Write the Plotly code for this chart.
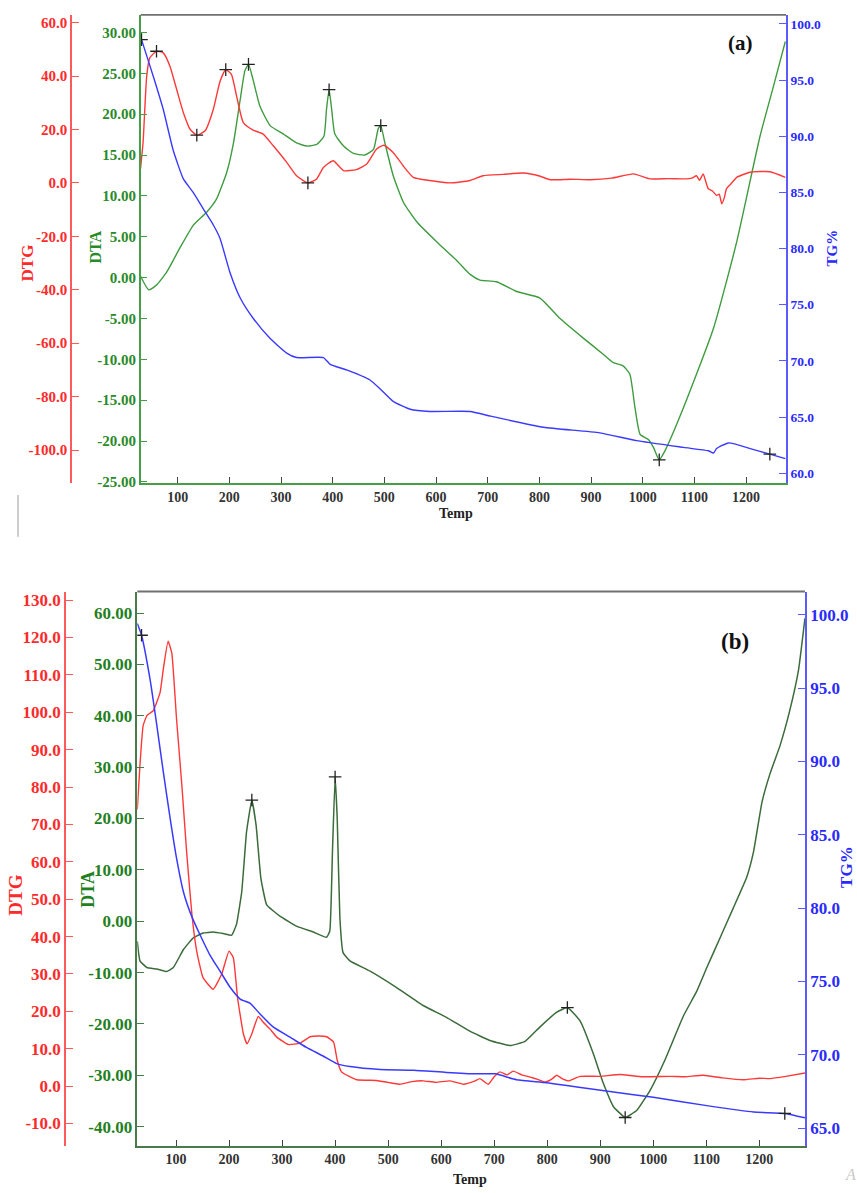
import plotly.graph_objects as go

W, H = 857, 1193

# ---------------- Panel (a) data ----------------
T_A_TG = [28, 30, 53, 72, 91, 111, 130, 150, 169, 182, 201, 221, 246, 279, 311, 330, 382, 395, 427,
          472, 492, 517, 550, 588, 666, 704, 808, 917, 988, 1079, 1127, 1137, 1143, 1166, 1208, 1246, 1276]
TG_A = [98.9, 98.6, 95.3, 92.4, 88.8, 86.2, 85.0, 83.5, 82.1, 80.9, 77.9, 75.6, 73.8, 72.0, 70.7, 70.3, 70.3, 69.7, 69.2,
        68.3, 67.5, 66.4, 65.7, 65.5, 65.5, 65.1, 64.1, 63.6, 62.9, 62.3, 62.0, 61.8, 62.2, 62.7, 62.2, 61.7, 61.3]

T_A_DTG = [28, 33, 40, 46, 59, 72, 85, 98, 111, 124, 137, 153, 169, 182, 193, 204, 214, 227, 246, 266,
           285, 311, 330, 352, 369, 382, 401, 421, 446, 466, 485, 499, 517, 536, 556, 588, 627, 666, 691, 730,
           769, 800, 821, 860, 898, 940, 982, 1014, 1050, 1079, 1095, 1104, 1110, 1117, 1122, 1127, 1135, 1143,
           1148, 1153, 1158, 1162, 1170, 1182, 1208, 1246, 1276]
DTG_A = [5.2, 15.2, 39.9, 46.8, 49.3, 48.7, 43.7, 35.0, 26.3, 20.1, 17.9, 19.5, 27.6, 38.1, 42.4, 40.6, 32.5, 22.6, 19.8, 18.2,
         13.9, 7.7, 2.7, 0.0, 1.5, 5.8, 8.3, 4.6, 5.0, 7.1, 12.7, 14.1, 11.4, 6.5, 2.1, 0.9, 0.0, 0.9, 2.7, 3.2,
         3.7, 2.6, 1.2, 1.4, 1.2, 1.8, 3.4, 1.5, 1.6, 1.5, 1.8, 2.7, 1.0, 3.4, 0.5, -2.2, -3.0, -4.7,
         -4.2, -7.8, -5.5, -2.2, -0.5, 2.1, 4.0, 4.2, 2.1]

T_A_DTA = [28, 44, 59, 79, 104, 130, 156, 175, 195, 208, 221, 230, 237, 246, 259, 279, 304, 330, 350, 369,
           383, 388, 393, 398, 404, 421, 440, 462, 479, 488, 493, 501, 517, 537, 563, 601, 640, 666, 685, 717,
           756, 801, 840, 885, 924, 943, 962, 975, 985, 995, 1011, 1021, 1032, 1043, 1079, 1137, 1182, 1227, 1253, 1276]
DTA_A = [0.2, -1.5, -0.9, 0.7, 3.6, 6.4, 8.0, 9.6, 12.9, 16.5, 21.8, 25.3, 26.1, 24.2, 21.0, 18.6, 17.6, 16.5, 16.1, 16.3,
         17.3, 20.6, 23.0, 20.6, 17.6, 16.1, 15.2, 15.0, 15.7, 18.2, 18.6, 16.5, 12.5, 9.2, 6.8, 4.4, 2.1, 0.4, -0.3, -0.5,
         -1.7, -2.5, -5.0, -7.4, -9.4, -10.4, -10.8, -11.8, -15.9, -19.2, -19.8, -20.8, -22.3, -21.2, -15.9, -6.2, 4.4, 17.3, 23.4, 28.9]

MARK_A_TG_T, MARK_A_TG_V = [30, 1246], [98.6, 61.7]
MARK_A_DTG_T, MARK_A_DTG_V = [59, 137, 193, 352], [49.3, 17.9, 42.4, 0.0]
MARK_A_DTA_T, MARK_A_DTA_V = [237, 393, 493, 1032], [26.1, 23.0, 18.6, -22.3]

# ---------------- Panel (b) data ----------------
T_B_TG = [27, 35, 51, 64, 76, 89, 101, 114, 130, 145, 164, 183, 202, 221, 240, 258, 283, 315, 346, 378,
          403, 428, 485, 548, 610, 664, 702, 742, 799, 856, 918, 1000, 1107, 1189, 1248, 1286]
TG_B = [99.4, 98.6, 95.6, 92.4, 89.3, 86.1, 83.4, 81.1, 79.4, 78.2, 76.8, 75.7, 74.6, 73.8, 73.5, 72.8, 71.9, 71.2, 70.5, 69.9,
        69.4, 69.2, 69.0, 68.95, 68.8, 68.7, 68.7, 68.3, 68.1, 67.8, 67.5, 67.1, 66.5, 66.1, 66.0, 65.7]

T_B_DTG = [27, 32, 38, 45, 57, 70, 76, 85, 92, 101, 111, 120, 130, 139, 151, 170, 186, 200, 208, 216,
           227, 234, 243, 255, 265, 277, 290, 312, 334, 353, 370, 384, 397, 404, 412, 441, 478, 500, 522, 545,
           566, 590, 617, 642, 664, 673, 689, 700, 711, 724, 736, 752, 768, 782, 796, 808, 818, 829, 840, 862,
           900, 937, 980, 1032, 1060, 1094, 1130, 1170, 1200, 1220, 1250, 1286]
DTG_B = [74.0, 85.8, 96.4, 99.1, 100.4, 105.3, 111.5, 119.0, 115.9, 98.2, 80.5, 62.7, 45.9, 36.1, 29.0, 25.9, 29.9, 36.1, 34.4, 23.7,
         14.0, 11.3, 14.0, 18.6, 17.0, 15.3, 13.1, 11.1, 11.5, 13.2, 13.4, 13.2, 11.8, 6.9, 3.8, 1.7, 1.5, 1.0, 0.5, 1.2,
         1.4, 1.0, 1.4, 0.5, 1.4, 2.0, 0.5, 2.5, 3.8, 3.0, 4.0, 3.0, 2.4, 1.8, 1.1, 1.8, 2.9, 1.9, 1.4, 2.6,
         2.6, 3.1, 2.5, 2.6, 2.5, 2.9, 2.2, 1.7, 2.1, 2.0, 2.6, 3.5]

T_B_DTA = [27, 32, 45, 64, 82, 95, 114, 133, 151, 170, 189, 205, 214, 224, 233, 243, 251, 260, 271, 296,
           328, 359, 384, 390, 395, 400, 404, 409, 415, 428, 466, 516, 566, 610, 654, 692, 730, 758, 786, 818,
           838, 862, 887, 906, 925, 947, 969, 994, 1022, 1057, 1082, 1101, 1126, 1151, 1176, 1189, 1205, 1220, 1239, 1258,
           1274, 1286]
DTA_B = [-3.9, -7.7, -9.0, -9.3, -9.8, -9.0, -5.5, -3.2, -2.3, -2.1, -2.4, -2.7, -0.6, 5.8, 17.4, 23.6, 18.7, 8.4, 3.2, 1.0,
         -1.0, -2.1, -3.1, -1.9, 13.5, 28.1, 20.0, 0.7, -6.1, -7.7, -9.7, -12.9, -16.4, -18.7, -21.4, -23.2, -24.2, -23.4, -20.6, -17.7,
         -16.8, -19.4, -25.8, -31.6, -36.1, -38.2, -36.8, -32.9, -27.0, -18.4, -13.6, -9.0, -3.2, 2.6, 8.5, 13.5, 23.2, 28.7, 34.2, 41.3,
         49.0, 59.0]

MARK_B_TG_T, MARK_B_TG_V = [35, 1248], [98.6, 66.0]
MARK_B_DTA_T, MARK_B_DTA_V = [243, 400, 838, 947], [23.6, 28.1, -16.8, -38.2]

# ---------------- Tick values ----------------
X_TICKS = [100, 200, 300, 400, 500, 600, 700, 800, 900, 1000, 1100, 1200]
A_DTA_TICKS = [30, 25, 20, 15, 10, 5, 0, -5, -10, -15, -20, -25]
A_DTG_TICKS = [60, 40, 20, 0, -20, -40, -60, -80, -100]
A_TG_TICKS = [100, 95, 90, 85, 80, 75, 70, 65, 60]
B_DTA_TICKS = [60, 50, 40, 30, 20, 10, 0, -10, -20, -30, -40]
B_DTG_TICKS = [130, 120, 110, 100, 90, 80, 70, 60, 50, 40, 30, 20, 10, 0, -10]
B_TG_TICKS = [100, 95, 90, 85, 80, 75, 70, 65]

# ---------------- Styling ----------------
FONT = "Liberation Serif"
RED_LINE, RED_AX, RED_TXT = "#ff3838", "#ff5a5a", "#ff2a2a"
BLUE_LINE, BLUE_AX, BLUE_TXT = "#3a3aff", "#5a5aff", "#2a2aff"
GREEN_A_LINE, GREEN_A_AX, GREEN_A_TXT = "#3f9b3f", "#45a045", "#2a8a2a"
GREEN_B_LINE, GREEN_B_AX, GREEN_B_TXT = "#3b6b3b", "#4a7a4a", "#1f801f"


def fx(x):
    return x / W


def fy(y):
    return 1 - y / H


def fmt(vals, nd):
    return [f"{v:.{nd}f}" for v in vals]


fig = go.Figure()


def line(x, y, xa, ya, color, w=1.4, smooth=0.5):
    fig.add_trace(go.Scatter(x=x, y=y, xaxis=xa, yaxis=ya, mode="lines",
                             line=dict(color=color, width=w, shape="spline", smoothing=smooth),
                             showlegend=False, hoverinfo="skip"))


def marks(x, y, xa, ya):
    fig.add_trace(go.Scatter(x=x, y=y, xaxis=xa, yaxis=ya, mode="markers",
                             marker=dict(symbol="cross-thin", size=9, line=dict(color="#222", width=1.3)),
                             showlegend=False, hoverinfo="skip"))


# panel (a)
line(T_A_DTA, DTA_A, "x", "y", GREEN_A_LINE)
line(T_A_DTG, DTG_A, "x", "y2", RED_LINE)
line(T_A_TG, TG_A, "x", "y3", BLUE_LINE)
marks(MARK_A_DTA_T, MARK_A_DTA_V, "x", "y")
marks(MARK_A_DTG_T, MARK_A_DTG_V, "x", "y2")
marks(MARK_A_TG_T, MARK_A_TG_V, "x", "y3")

# panel (b)
line(T_B_DTA, DTA_B, "x2", "y4", GREEN_B_LINE, 1.5, 0.35)
line(T_B_DTG, DTG_B, "x2", "y5", RED_LINE, 1.4, 0.4)
line(T_B_TG, TG_B, "x2", "y6", BLUE_LINE, 1.5)
marks(MARK_B_DTA_T, MARK_B_DTA_V, "x2", "y4")
marks(MARK_B_TG_T, MARK_B_TG_V, "x2", "y6")


def yax(domain, rng, ticks, nd, linecol, txtcol, size, **kw):
    d = dict(domain=domain, range=rng, tickmode="array", tickvals=ticks, ticktext=fmt(ticks, nd),
             ticks="inside", ticklen=7, tickwidth=1, tickcolor=linecol,
             showline=True, linecolor=linecol, linewidth=1.5,
             showgrid=False, zeroline=False, fixedrange=True,
             tickfont=dict(family=FONT, size=size, color=txtcol, weight="bold"))
    d.update(kw)
    return d


def xax(domain, rng, anchor, linecol):
    return dict(domain=domain, range=rng, anchor=anchor, tickmode="array", tickvals=X_TICKS,
                ticktext=[str(v) for v in X_TICKS], ticks="inside", ticklen=6, tickwidth=1.2, tickcolor="#444",
                showline=True, linecolor=linecol, linewidth=1.5, showgrid=False, zeroline=False,
                fixedrange=True, tickfont=dict(family=FONT, size=14, color="#333", weight="bold"))


A_DOM_Y = [fy(486), fy(15)]
B_DOM_Y = [fy(1152.5), fy(595)]

fig.update_layout(
    width=W, height=H, autosize=False,
    margin=dict(l=0, r=0, t=0, b=0),
    paper_bgcolor="white", plot_bgcolor="white",
    xaxis=xax([fx(140.7), fx(786)], [28.4, 1277.3], "y", GREEN_A_AX),
    yaxis=yax(A_DOM_Y, [-25.15, 32.15], A_DTA_TICKS, 2, GREEN_A_AX, GREEN_A_TXT, 15, anchor="x"),
    yaxis2=yax(A_DOM_Y, [-112.4, 62.9], A_DTG_TICKS, 1, RED_AX, RED_TXT, 15,
               overlaying="y", anchor="free", position=fx(71), side="left"),
    yaxis3=yax(A_DOM_Y, [59.12, 100.8], A_TG_TICKS, 1, BLUE_AX, BLUE_TXT, 13.5,
               overlaying="y", anchor="x", side="right"),
    xaxis2=xax([fx(137.3), fx(805)], [27.0, 1286.1], "y4", GREEN_B_AX),
    yaxis4=yax(B_DOM_Y, [-43.7, 64.2], B_DTA_TICKS, 2, GREEN_B_AX, GREEN_B_TXT, 17, anchor="x2"),
    yaxis5=yax(B_DOM_Y, [-15.96, 132.3], B_DTG_TICKS, 1, RED_AX, RED_TXT, 17,
               overlaying="y4", anchor="free", position=fx(65), side="left"),
    yaxis6=yax(B_DOM_Y, [63.8, 101.58], B_TG_TICKS, 1, BLUE_AX, BLUE_TXT, 17,
               overlaying="y4", anchor="x2", side="right"),
)

shapes = [
    dict(type="line", xref="x domain", yref="y domain", x0=0, x1=1, y0=1, y1=1,
         line=dict(color="#707070", width=1.8)),
    dict(type="line", xref="x2 domain", yref="y4 domain", x0=0, x1=1, y0=1, y1=1,
         line=dict(color="#707070", width=1.8)),
    dict(type="line", xref="paper", yref="paper", x0=fx(18), x1=fx(18), y0=fy(498), y1=fy(540),
         line=dict(color="#9a9a9a", width=1)),
]
fig.update_layout(shapes=shapes)


def ann(text, x, y, color, size, angle=0, italic=False):
    return dict(text=text, x=fx(x), y=fy(y), xref="paper", yref="paper", showarrow=False,
                textangle=angle, xanchor="center", yanchor="middle",
                font=dict(family=FONT, size=size, color=color, weight="bold",
                          style="italic" if italic else "normal"))


annots = [
    ann("(a)", 740, 43, "#111", 21),
    ann("Temp", 456, 517, "#222", 14),
    ann("DTG", 27, 265, RED_TXT, 17, -90),
    ann("DTA", 96, 249, GREEN_A_TXT, 16, -90),
    ann("TG%", 832, 250, BLUE_TXT, 15, -90),
    ann("(b)", 735, 645, "#111", 23),
    ann("Temp", 470, 1186, "#222", 14),
    ann("DTG", 16, 900, RED_TXT, 19, -90),
    ann("DTA", 88, 895, GREEN_B_TXT, 18, -90),
    ann("TG%", 847, 872, BLUE_TXT, 17, -90),
]
a = ann("A", 850, 1181, "#c8c8c8", 16, 0, True)
a["font"]["weight"] = "normal"
annots.append(a)
fig.update_layout(annotations=annots)

fig.write_html("out.html")
